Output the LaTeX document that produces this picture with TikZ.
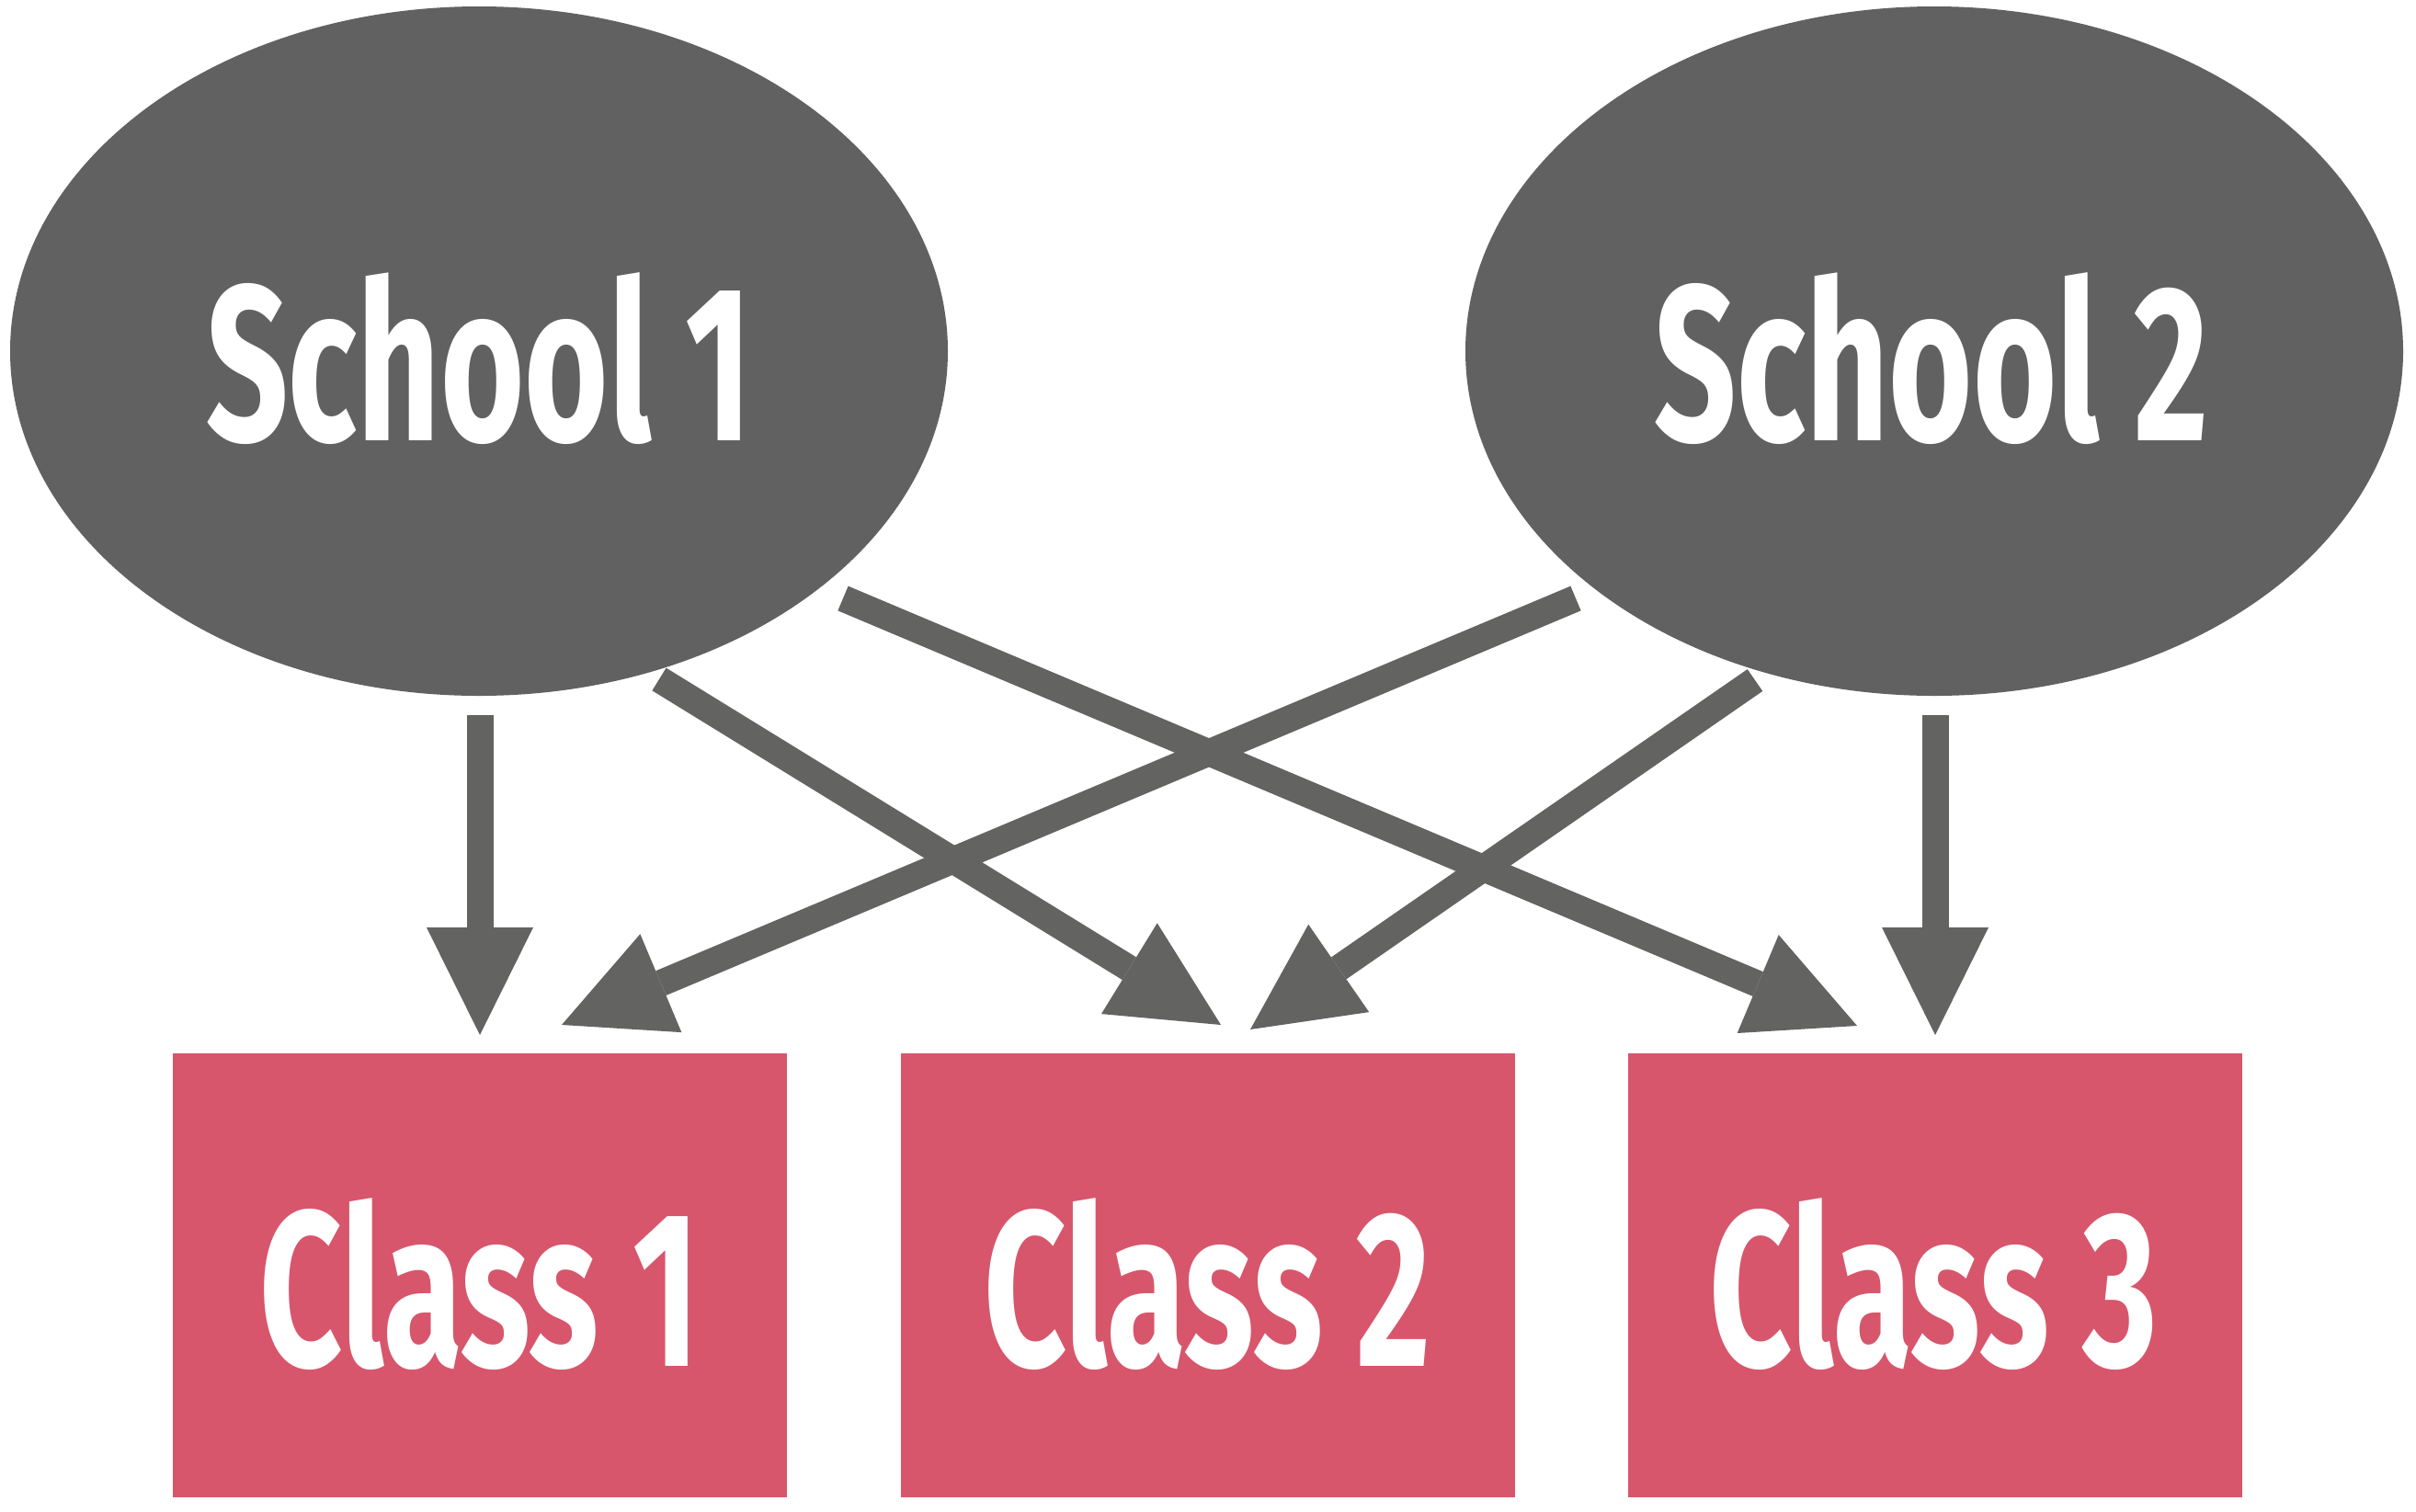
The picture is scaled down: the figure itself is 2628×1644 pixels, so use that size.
\documentclass[tikz,border=0pt]{standalone}
\usepackage{fontspec}
\newfontfamily\lblfont[FakeStretch=0.65]{Fira Sans Bold}
\usetikzlibrary{shapes.geometric,arrows.meta}
\definecolor{schoolgray}{HTML}{616161}
\definecolor{arrowgray}{HTML}{636362}
\definecolor{classred}{HTML}{D7566B}
\begin{document}
\begin{tikzpicture}[x=1pt,y=-1pt,
  school/.style={ellipse, fill=schoolgray, minimum width=1020pt, minimum height=750pt, inner sep=0pt},
  classbox/.style={rectangle, fill=classred, minimum width=668pt, minimum height=483pt, inner sep=0pt},
  lbl/.style={text=white, font={\lblfont\fontsize{241pt}{241pt}\selectfont}, inner sep=0pt, anchor=base},
  bigarrow/.style={draw=arrowgray, line width=29pt, -{Triangle[length=117pt,width=116pt,line width=0pt]}}]
\useasboundingbox (0,0) rectangle (2628,1644);
% schools
\node[school] (s1) at (521,382) {};
\node[school] (s2) at (2104,382) {};
\node[lbl] (s1t) at (521.5,479) {School 1};
\node[lbl] (s2t) at (2101,479) {School 2};
% classes
\node[classbox] (c1) at (522,1387.5) {};
\node[classbox] (c2) at (1313.5,1387.5) {};
\node[classbox] (c3) at (2104.5,1387.5) {};
\node[lbl] (c1t) at (522,1486) {Class 1};
\node[lbl] (c2t) at (1313.5,1486) {Class 2};
\node[lbl] (c3t) at (2103.5,1486) {Class 3};
% arrow ends
\coordinate (s1a) at (522,778);   \coordinate (c1a) at (522,1126);
\coordinate (s1b) at (717,739);   \coordinate (c2a) at (1328,1115);
\coordinate (s1c) at (917,651);   \coordinate (c3a) at (2020,1116);
\coordinate (s2a) at (1714,651);  \coordinate (c1b) at (611,1115);
\coordinate (s2b) at (1909,740);  \coordinate (c2b) at (1360,1120);
\coordinate (s2c) at (2105,778);  \coordinate (c3b) at (2105,1126);
\draw[bigarrow] (s1a) -- (c1a);
\draw[bigarrow] (s1b) -- (c2a);
\draw[bigarrow] (s1c) -- (c3a);
\draw[bigarrow] (s2a) -- (c1b);
\draw[bigarrow] (s2b) -- (c2b);
\draw[bigarrow] (s2c) -- (c3b);
\end{tikzpicture}
\end{document}
